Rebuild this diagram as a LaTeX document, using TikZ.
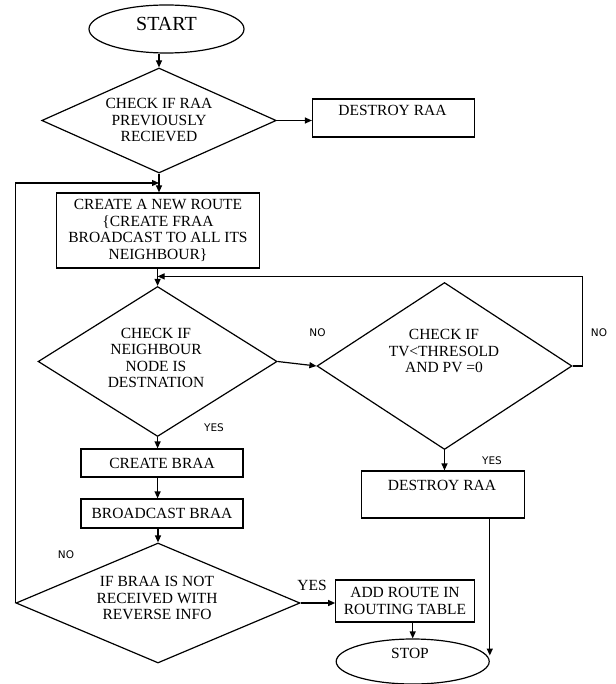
\documentclass[tikz,border=0pt]{standalone}
\usepackage{fontspec}
\setmainfont{Liberation Serif}
\newfontfamily\lblfont{DejaVu Sans}
\usetikzlibrary{shapes.geometric,arrows.meta,calc}
\tikzset{
  ln/.style={line width=1.2pt, draw=black},
  arr/.style={ln, -{Triangle[length=7pt,width=6pt]}},
  boxnode/.style={ln, rectangle, inner sep=0pt, align=center,
     font=\fontsize{15.5}{16.5}\selectfont},
  dia/.style={ln, diamond, inner sep=0pt},
  ell/.style={ln, ellipse, inner sep=0pt},
  txt/.style={inner sep=0pt, align=center, font=\fontsize{15.5}{16.5}\selectfont},
  lbl/.style={inner sep=0pt, font=\lblfont\fontsize{10.5}{12}\selectfont},
}
\begin{document}
\begin{tikzpicture}[x=1pt,y=-1pt]
\useasboundingbox (0,0) rectangle (615,684);
% shapes
\node[ell, minimum width=155, minimum height=48] (start) at (166.5,29) {};
\node[txt, font=\fontsize{20}{22}\selectfont] (startt) at (166.5,24) {START};
\node[dia, minimum width=234.5, minimum height=105] (d1) at (159,120.5) {};
\node[txt] (d1t) at (159,120) {CHECK IF RAA\\PREVIOUSLY\\RECIEVED};
\node[boxnode, minimum width=162, minimum height=38] (des1) at (393.5,118) {};
\node[txt] (des1t) at (392.5,110) {DESTROY RAA};
\node[boxnode, minimum width=203.5, minimum height=75] (box2) at (158,230.5)
  {CREATE A NEW ROUTE\\\{CREATE FRAA\\BROADCAST TO ALL ITS\\NEIGHBOUR\}};
\node[dia, minimum width=239, minimum height=150] (d2) at (157.6,361.5) {};
\node[txt] (d2t) at (156,358) {CHECK IF\\NEIGHBOUR\\NODE IS\\DESTNATION};
\node[dia, minimum width=255, minimum height=167] (d3) at (444.5,366) {};
\node[txt] (d3t) at (444,351) {CHECK IF\\TV<THRESOLD\\AND PV =0};
\node[boxnode, minimum width=162, minimum height=28] (cb) at (162,463) {CREATE BRAA};
\node[boxnode, minimum width=162, minimum height=29] (bb) at (162,513.5) {BROADCAST BRAA};
\node[dia, minimum width=284, minimum height=120] (d4) at (158,603) {};
\node[txt] (d4t) at (157,598) {IF BRAA IS NOT\\RECEIVED WITH\\REVERSE INFO};
\node[boxnode, minimum width=163.5, minimum height=47] (des2) at (443,494.5) {};
\node[txt] (des2t) at (442,485) {DESTROY RAA};
\node[boxnode, minimum width=138.5, minimum height=42] (add) at (405,601)
  {ADD ROUTE IN\\ROUTING TABLE};
\node[ell, minimum width=153, minimum height=45] (stop) at (412.7,661.5) {};
\node[txt] (stopt) at (410,653) {STOP};
% labels
\node[lbl] (no1) at (317.5,333) {NO};
\node[lbl] (no2) at (599,333) {NO};
\node[lbl] (yes1) at (214,428) {YES};
\node[lbl] (yes2) at (492,461) {YES};
\node[lbl] (no3) at (66,555) {NO};
\node[txt] (yes3) at (312,585) {YES};
% connectors
\draw[arr] (d1.north |- start.south) -- (d1.north);
\draw[arr] (d1.east) -- (d1.east -| des1.west);
\draw[arr] (d1.south) -- (d1.south |- box2.north);
\coordinate (j1) at ($(d1.south)!0.5!(d1.south |- box2.north)$);
\draw[arr] (d4.west) |- (j1);
\draw[arr] (d2.north |- box2.south) -- (d2.north);
\coordinate (j2) at ($(d2.north |- box2.south)!0.45!(d2.north)$);
\draw[arr] (d3.east) -- ++(9.8,0) |- (j2);
\draw[arr] (d2.east) -- (d3.west);
\draw[arr] (d2.south) -- (d2.south |- cb.north);
\draw[arr] (d2.south |- cb.south) -- (d2.south |- bb.north);
\draw[arr] (d4.north |- bb.south) -- (d4.north);
\draw[arr] (d4.east) -- (d4.east -| add.west);
\draw[arr] (stop.north |- add.south) -- (stop.north);
\draw[arr] (d3.south) -- (d3.south |- des2.north);
\draw[arr] (des2.south -| stop.east) -- ([yshift=6pt]stop.east);
\end{tikzpicture}
\end{document}
